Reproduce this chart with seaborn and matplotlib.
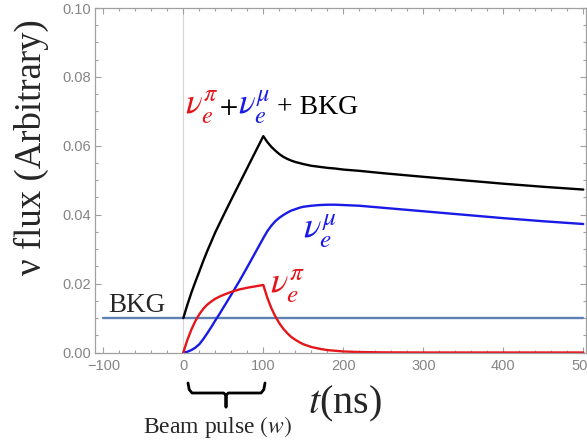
import matplotlib
matplotlib.use("Agg")
import matplotlib.pyplot as plt
import seaborn as sns
import pandas as pd
from matplotlib.ticker import MultipleLocator
from matplotlib.offsetbox import TextArea, HPacker, AnnotationBbox

sns.set_theme(style="ticks")
plt.rcParams["font.family"] = ["Liberation Serif", "DejaVu Serif"]
plt.rcParams["mathtext.fontset"] = "stix"

# ---- data ----
t_ns = [0, 5, 10, 15, 20, 25, 30, 35, 40, 45, 50, 60, 70, 80, 90, 100, 105, 110,
        115, 120, 125, 130, 135, 140, 145, 150, 160, 170, 180, 190, 200, 220,
        250, 300, 350, 400, 450, 500]
nu_e_pi = [0.0, 0.0036, 0.0066, 0.0091, 0.0111, 0.0127, 0.0139, 0.0148, 0.0156,
           0.0162, 0.0167, 0.0176, 0.0183, 0.0188, 0.0192, 0.0196, 0.0159,
           0.0129, 0.0105, 0.0085, 0.0069, 0.0056, 0.0045, 0.0037, 0.0030,
           0.0024, 0.0016, 0.0011, 0.0007, 0.0005, 0.0003, 0.00013, 0.00004,
           0.0, 0.0, 0.0, 0.0, 0.0]
nu_e_mu = [0.0, 0.0002, 0.0007, 0.0014, 0.0024, 0.0039, 0.0056, 0.0074, 0.0093,
           0.0111, 0.0130, 0.0168, 0.0207, 0.0248, 0.0290, 0.0332, 0.0352,
           0.0368, 0.0381, 0.0391, 0.0399, 0.0406, 0.0412, 0.0416, 0.0420,
           0.0423, 0.0426, 0.0428, 0.0429, 0.0429, 0.0428, 0.0426, 0.0420,
           0.0410, 0.0400, 0.0390, 0.0381, 0.0373]
bkg_level = 0.01
bkg_t = [-100, 500]
total = [p + m + bkg_level for p, m in zip(nu_e_pi, nu_e_mu)]

x_ticks = [-100, 0, 100, 200, 300, 400, 500]
y_ticks = [0.00, 0.02, 0.04, 0.06, 0.08, 0.10]

df = pd.DataFrame({"t": t_ns, "pi": nu_e_pi, "mu": nu_e_mu, "tot": total})
df_bkg = pd.DataFrame({"t": bkg_t, "v": [bkg_level] * len(bkg_t)})

RED = "#e4161c"
BLUE = "#1a1ae6"
BKGC = "#5e81b5"

W, H = 587, 446
fig = plt.figure(figsize=(W / 100, H / 100), dpi=100)
L, R, T, B = 95, 586, 8, 352.5
ax = fig.add_axes([L / W, (H - B) / H, (R - L) / W, (B - T) / H])

ax.axvline(0, color="#d4d4d4", lw=0.8, zorder=0)
sns.lineplot(data=df_bkg, x="t", y="v", color=BKGC, lw=1.7, ax=ax)
sns.lineplot(data=df, x="t", y="tot", color="black", lw=1.7, ax=ax)
sns.lineplot(data=df, x="t", y="mu", color=BLUE, lw=1.7, ax=ax)
sns.lineplot(data=df, x="t", y="pi", color=RED, lw=1.7, ax=ax)

ax.set_xlim(-110.4, 503.4)
ax.set_ylim(0, 0.10)
ax.set_xlabel("")
ax.set_ylabel("")

tick_font = dict(family="Liberation Sans", color="#858585", fontsize=10.5)
ax.set_xticks(x_ticks, labels=[f"{v:d}".replace("-", "\u2212") for v in x_ticks], **tick_font)
ax.set_yticks(y_ticks, labels=[f"{v:.2f}" for v in y_ticks], **tick_font)
ax.xaxis.set_minor_locator(MultipleLocator(20))
ax.yaxis.set_minor_locator(MultipleLocator(0.005))
ax.tick_params(which="both", direction="in", top=True, right=True, color="#a0a0a0", width=0.8)
ax.tick_params(which="major", length=4.5)
ax.tick_params(which="minor", length=2.5)
ax.tick_params(axis="x", pad=5)
ax.tick_params(axis="y", pad=3)
for s in ax.spines.values():
    s.set_color("#a0a0a0")
    s.set_linewidth(0.9)


def px(x):
    return (x - 183.3) / 0.8


def py(y):
    return (352.5 - y) / 3445.0


# y label
fig.text(31 / W, 1 - 147 / H, "\u03bd flux (Arbitrary)", rotation=90,
         ha="center", va="center", fontsize=26.5)

# x label
ax.text(px(308), py(413), r"$t$(ns)", fontsize=29, ha="left", va="baseline", clip_on=False)

# BKG label
ax.text(px(108), py(312), "BKG", fontsize=19.5, ha="left", va="baseline")

# curve labels
ax.text(px(270), py(293), r"$\nu_e^\pi$", fontsize=26, color=RED, ha="left", va="baseline")
ax.text(px(303), py(238), r"$\nu_e^\mu$", fontsize=26, color=BLUE, ha="left", va="baseline")

# combined label
parts = [
    TextArea(r"$\nu_e^\pi$", textprops=dict(color=RED, fontsize=25)),
    TextArea(r"$+$", textprops=dict(color="black", fontsize=19)),
    TextArea(r"$\nu_e^\mu$", textprops=dict(color=BLUE, fontsize=25)),
    TextArea(" + BKG", textprops=dict(color="black", fontsize=20)),
]
box = HPacker(children=parts, align="baseline", pad=0, sep=0)
ab = AnnotationBbox(box, (px(185), py(107)), xycoords="data", box_alignment=(0, 0.5),
                    frameon=False, pad=0)
ax.add_artist(ab)

# beam pulse brace
bx0, bx1, bxm = px(188), px(265), px(226)
ytop, ybar, ystem = py(383), py(393), py(407)
ax.plot([bx0, bx0 + 1.5, bx0 + 5, bxm - 3, bxm, bxm, bxm, bxm + 3, bx1 - 5, bx1 - 1.5, bx1],
        [ytop, ybar + 0.0010, ybar, ybar, ybar - 0.0006, ystem, ybar - 0.0006, ybar, ybar,
         ybar + 0.0010, ytop],
        color="black", lw=2.0, clip_on=False, solid_joinstyle="round")
ax.text(px(218), py(433), r"Beam pulse $(w)$", fontsize=17, ha="center", va="baseline",
        clip_on=False)

fig.savefig("out.png", dpi=100)
